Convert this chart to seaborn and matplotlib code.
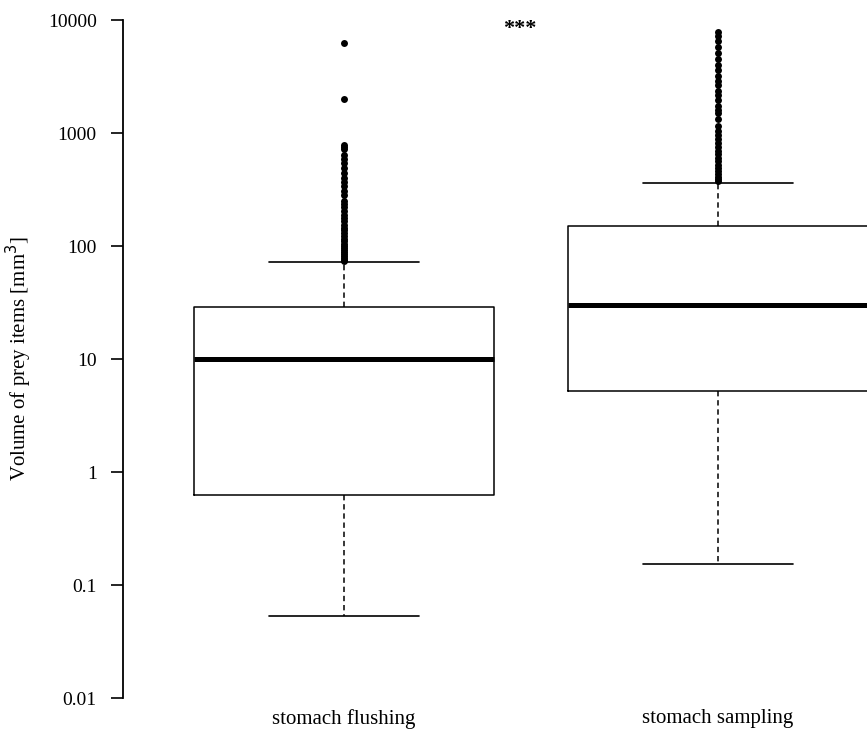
import matplotlib
matplotlib.use("Agg")
import matplotlib.pyplot as plt
import pandas as pd
import seaborn as sns

methods = ["stomach flushing", "stomach sampling"]

# box statistics (mm^3)
q1 = [0.63, 5.2]
medians = [10, 30]
q3 = [29, 150]
whisker_low = [0.053, 0.155]
whisker_high = [72, 360]

flushing_outliers = [
    6300, 2000, 790, 760, 720, 640, 590, 540, 490, 440, 400, 370, 340,
    310, 285, 250, 235, 220, 205, 190, 178, 165, 155, 145, 138, 130,
    122, 116, 110, 105, 100, 96, 92, 88, 85, 82, 79, 76, 74,
]
sampling_outliers = [
    7800, 7200, 6500, 5800, 5100, 4500, 4000, 3600, 3200, 2900, 2650,
    2350, 2150, 1950, 1750, 1600, 1500, 1330, 1150, 1050, 960, 880, 820,
    760, 700, 650, 600, 560, 520, 490, 460, 435, 410, 390, 375,
]

y_ticks = [0.01, 0.1, 1, 10, 100, 1000, 10000]
y_tick_labels = ["0.01", "0.1", "1", "10", "100", "1000", "10000"]

sns.set_theme(style="white")
plt.rcParams["font.family"] = ["Liberation Serif", "DejaVu Serif"]
plt.rcParams["text.color"] = "black"
plt.rcParams["axes.labelcolor"] = "black"
plt.rcParams["xtick.color"] = "black"
plt.rcParams["ytick.color"] = "black"

outliers = pd.DataFrame({
    "method": [methods[0]] * len(flushing_outliers)
    + [methods[1]] * len(sampling_outliers),
    "volume": flushing_outliers + sampling_outliers,
})

fig = plt.figure(figsize=(8.67, 7.29), dpi=100)
ax = fig.add_axes([0.142, 0.0425, 0.858, 0.930])
ax.set_yscale("log")

stats = []
for i, m in enumerate(methods):
    stats.append(dict(
        label=m,
        q1=q1[i],
        med=medians[i],
        q3=q3[i],
        whislo=whisker_low[i],
        whishi=whisker_high[i],
        fliers=[],
    ))

ax.bxp(
    stats,
    positions=[0, 1],
    widths=0.8,
    capwidths=0.4,
    showfliers=False,
    manage_ticks=False,
    boxprops=dict(color="black", linewidth=1.1),
    medianprops=dict(color="black", linewidth=3.6, solid_capstyle="butt"),
    whiskerprops=dict(color="black", linewidth=1.1, linestyle=(0, (3.5, 2.5))),
    capprops=dict(color="black", linewidth=1.2),
)

sns.stripplot(
    data=outliers,
    x="method",
    y="volume",
    order=methods,
    jitter=False,
    color="black",
    size=5,
    linewidth=0,
    ax=ax,
    zorder=3,
)

ax.set_xlim(-0.59, 1.398)
ax.set_ylim(0.01, 10000)

ax.set_yticks(y_ticks)
ax.set_yticklabels(y_tick_labels)
ax.yaxis.set_minor_locator(matplotlib.ticker.NullLocator())
ax.tick_params(axis="y", left=True, length=9, width=1.2, pad=10,
               labelsize=14, colors="black")
ax.set_xticks([0, 1])
ax.set_xticklabels(methods)
ax.tick_params(axis="x", bottom=False, pad=2, labelsize=15, colors="black")

ax.set_xlabel("")
ax.set_ylabel("Volume of prey items [mm$^3$]", fontsize=15, labelpad=10,
              color="black")

for side in ["top", "right", "bottom"]:
    ax.spines[side].set_visible(False)
ax.spines["left"].set_color("black")
ax.spines["left"].set_linewidth(1.3)

ax.text(0.47, 8300, "***", ha="center", va="center", fontsize=16,
        fontweight="bold", color="black", clip_on=False)

fig.savefig("out.png", dpi=100)
plt.close(fig)
